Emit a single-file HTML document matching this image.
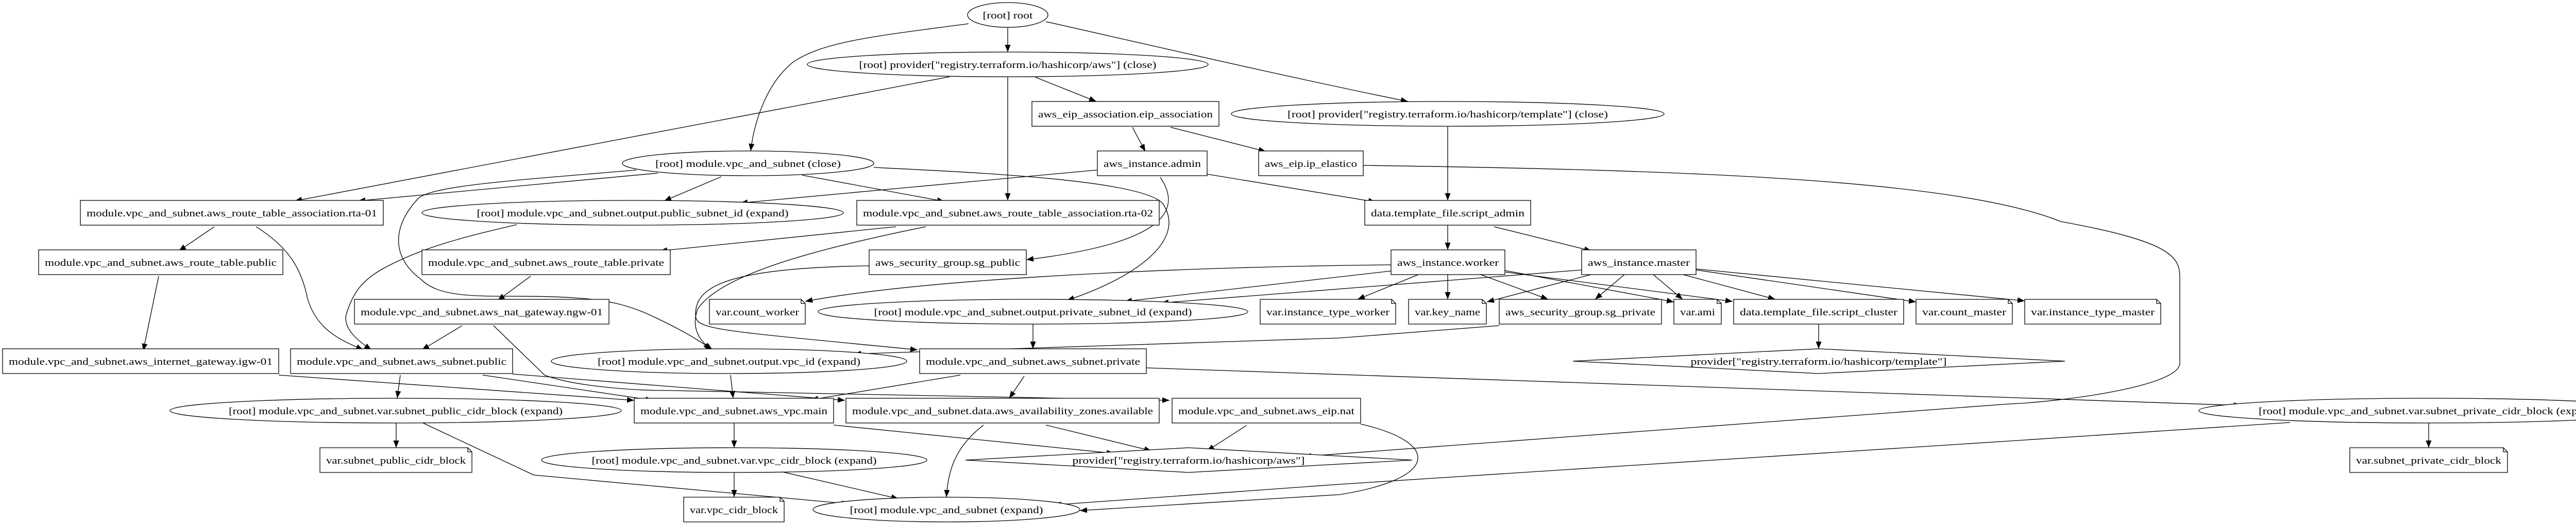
<!DOCTYPE html>
<html><head><meta charset="utf-8"><style>
html,body{margin:0;padding:0;background:#fff;}
svg{display:block;}
text{font-family:"Liberation Serif","DejaVu Serif",serif;font-size:19px;fill:#000;}
.e{fill:none;stroke:#000;stroke-width:1.3;}
.n{fill:#fff;stroke:#000;stroke-width:1.3;}
</style></head><body>
<svg width="5165" height="1019" viewBox="0 0 5165 1019" xmlns="http://www.w3.org/2000/svg">
<defs><marker id="a" markerUnits="userSpaceOnUse" markerWidth="16" markerHeight="12" refX="14" refY="5.5" orient="auto"><path d="M0,0 L14,5.5 L0,11 z" fill="#000"/></marker></defs>
<g class="e" marker-end="url(#a)">
<path d="M1956,53 L1956,101"/>
<path d="M1880,46 C1700,70 1600,80 1540,120 C1490,160 1465,230 1457,293"/>
<path d="M2030,42 C2200,80 2500,150 2733,197"/>
<path d="M1843,149 L572,390"/>
<path d="M1956,149 L1956,389"/>
<path d="M2010,150 L2128,197"/>
<path d="M2198,247 L2223,294"/>
<path d="M2272,247 L2457,294"/>
<path d="M2810,246 L2810,389"/>
<path d="M2343,338 L2670,392"/>
<path d="M2129,330 L1437,394"/>
<path d="M2252,344 C2290,400 2280,470 1992,504"/>
<path d="M1696,325 C1900,335 2240,350 2260,400 C2300,470 2200,540 2071,583"/>
<path d="M2646,321 C3300,330 3800,350 4000,430 C4220,470 4231,500 4231,540 L4231,705 C4231,750 4000,780 3900,784 L2531,886"/>
<path d="M4445,820 L3900,856 L2600,940 L2046,980"/>
<path d="M2641,823 C2800,860 2790,930 2600,960 L2096,991"/>
<path d="M1277,336 L695,390"/>
<path d="M1235,330 C1000,350 840,360 812,385 C760,440 760,500 817,542 C850,575 912,575 1000,575 C1186,575 1220,590 1300,630 C1340,650 1370,670 1383,679"/>
<path d="M1400,343 L1289,390"/>
<path d="M1557,340 L1833,391"/>
<path d="M416,440 L347,487"/>
<path d="M497,440 C560,480 585,520 597,580 C615,640 660,660 705,679"/>
<path d="M308,536 L278,681"/>
<path d="M1003,436 C900,460 820,480 746,520 C700,545 685,570 672,610 C665,640 700,665 721,679"/>
<path d="M1739,440 L1281,487"/>
<path d="M1797,440 C1600,480 1400,530 1354,600 C1340,640 1360,660 1379,679"/>
<path d="M1687,516 C1400,520 1350,560 1350,610 C1350,640 1380,640 1781,679"/>
<path d="M1030,536 L966,583"/>
<path d="M897,632 L819,679"/>
<path d="M958,632 L1057,728 C1100,745 1200,758 1300,758 L2270,777"/>
<path d="M541,728 L1231,777"/>
<path d="M937,728 L1267,777"/>
<path d="M995,726 L1640,777"/>
<path d="M777,728 L771,773"/>
<path d="M769,821 L769,869"/>
<path d="M821,821 L1036,922 L1648,978"/>
<path d="M1418,728 L1423,773"/>
<path d="M1864,728 L1574,776"/>
<path d="M1988,730 L1959,773"/>
<path d="M2225,714 L4350,787"/>
<path d="M2005,629 L2005,677"/>
<path d="M1425,821 L1425,869"/>
<path d="M1618,825 L2162,880"/>
<path d="M2030,825 L2235,875"/>
<path d="M1909,825 C1850,870 1840,920 1837,965"/>
<path d="M2419,826 L2343,875"/>
<path d="M1425,917 L1425,965"/>
<path d="M1519,916 L1744,968"/>
<path d="M2810,437 L2810,485"/>
<path d="M2900,440 L3089,487"/>
<path d="M2753,533 L2635,581"/>
<path d="M2810,533 L2810,581"/>
<path d="M2874,533 L3005,581"/>
<path d="M2921,525 L3249,586"/>
<path d="M2921,528 L3363,585"/>
<path d="M2700,514 C2300,518 1800,540 1563,585"/>
<path d="M2700,526 L2183,585"/>
<path d="M3070,524 L2254,588"/>
<path d="M3088,533 L2886,586"/>
<path d="M3153,533 L3096,581"/>
<path d="M3209,533 L3266,581"/>
<path d="M3267,533 L3446,581"/>
<path d="M3292,524 L3719,586"/>
<path d="M3292,522 L3930,584"/>
<path d="M2910,632 L2600,656 L1657,687"/>
<path d="M3530,629 L3530,677"/>
<path d="M4714,821 L4714,869"/>
</g>
<g>
<ellipse class="n" cx="1956" cy="29" rx="78" ry="24"/><text x="1956" y="36" text-anchor="middle" textLength="97" lengthAdjust="spacingAndGlyphs">[root] root</text>
<ellipse class="n" cx="1956" cy="125" rx="389" ry="24"/><text x="1956" y="132" text-anchor="middle" textLength="577" lengthAdjust="spacingAndGlyphs">[root] provider["registry.terraform.io/hashicorp/aws"] (close)</text>
<ellipse class="n" cx="2810" cy="221" rx="420" ry="24"/><text x="2810" y="228" text-anchor="middle" textLength="622" lengthAdjust="spacingAndGlyphs">[root] provider["registry.terraform.io/hashicorp/template"] (close)</text>
<ellipse class="n" cx="1452" cy="317" rx="244" ry="24"/><text x="1452" y="324" text-anchor="middle" textLength="360" lengthAdjust="spacingAndGlyphs">[root] module.vpc_and_subnet (close)</text>
<ellipse class="n" cx="1228" cy="413" rx="409" ry="24"/><text x="1228" y="420" text-anchor="middle" textLength="605" lengthAdjust="spacingAndGlyphs">[root] module.vpc_and_subnet.output.public_subnet_id (expand)</text>
<ellipse class="n" cx="2005" cy="605" rx="417" ry="24"/><text x="2005" y="612" text-anchor="middle" textLength="617" lengthAdjust="spacingAndGlyphs">[root] module.vpc_and_subnet.output.private_subnet_id (expand)</text>
<ellipse class="n" cx="1415" cy="701" rx="345" ry="24"/><text x="1415" y="708" text-anchor="middle" textLength="510" lengthAdjust="spacingAndGlyphs">[root] module.vpc_and_subnet.output.vpc_id (expand)</text>
<ellipse class="n" cx="768" cy="797" rx="438" ry="24"/><text x="768" y="804" text-anchor="middle" textLength="648" lengthAdjust="spacingAndGlyphs">[root] module.vpc_and_subnet.var.subnet_public_cidr_block (expand)</text>
<ellipse class="n" cx="4714" cy="797" rx="446" ry="24"/><text x="4714" y="804" text-anchor="middle" textLength="660" lengthAdjust="spacingAndGlyphs">[root] module.vpc_and_subnet.var.subnet_private_cidr_block (expand)</text>
<ellipse class="n" cx="1425" cy="893" rx="374" ry="24"/><text x="1425" y="900" text-anchor="middle" textLength="553" lengthAdjust="spacingAndGlyphs">[root] module.vpc_and_subnet.var.vpc_cidr_block (expand)</text>
<ellipse class="n" cx="1837" cy="989" rx="259" ry="24"/><text x="1837" y="996" text-anchor="middle" textLength="375" lengthAdjust="spacingAndGlyphs">[root] module.vpc_and_subnet (expand)</text>

<rect class="n" x="2003" y="197" width="363" height="48"/><text x="2184.5" y="228" text-anchor="middle" textLength="339" lengthAdjust="spacingAndGlyphs">aws_eip_association.eip_association</text>
<rect class="n" x="2130" y="293" width="213" height="48"/><text x="2236.5" y="324" text-anchor="middle" textLength="189" lengthAdjust="spacingAndGlyphs">aws_instance.admin</text>
<rect class="n" x="2443" y="293" width="203" height="48"/><text x="2544.5" y="324" text-anchor="middle" textLength="179" lengthAdjust="spacingAndGlyphs">aws_eip.ip_elastico</text>
<rect class="n" x="156" y="389" width="588" height="48"/><text x="450" y="420" text-anchor="middle" textLength="564" lengthAdjust="spacingAndGlyphs">module.vpc_and_subnet.aws_route_table_association.rta-01</text>
<rect class="n" x="1663" y="389" width="587" height="48"/><text x="1956.5" y="420" text-anchor="middle" textLength="563" lengthAdjust="spacingAndGlyphs">module.vpc_and_subnet.aws_route_table_association.rta-02</text>
<rect class="n" x="2649" y="389" width="322" height="48"/><text x="2810" y="420" text-anchor="middle" textLength="298" lengthAdjust="spacingAndGlyphs">data.template_file.script_admin</text>
<rect class="n" x="75" y="485" width="474" height="48"/><text x="312" y="516" text-anchor="middle" textLength="450" lengthAdjust="spacingAndGlyphs">module.vpc_and_subnet.aws_route_table.public</text>
<rect class="n" x="819" y="485" width="482" height="48"/><text x="1060" y="516" text-anchor="middle" textLength="458" lengthAdjust="spacingAndGlyphs">module.vpc_and_subnet.aws_route_table.private</text>
<rect class="n" x="1687" y="485" width="305" height="48"/><text x="1839.5" y="516" text-anchor="middle" textLength="281" lengthAdjust="spacingAndGlyphs">aws_security_group.sg_public</text>
<rect class="n" x="2700" y="485" width="221" height="48"/><text x="2810.5" y="516" text-anchor="middle" textLength="197" lengthAdjust="spacingAndGlyphs">aws_instance.worker</text>
<rect class="n" x="3070" y="485" width="222" height="48"/><text x="3181" y="516" text-anchor="middle" textLength="198" lengthAdjust="spacingAndGlyphs">aws_instance.master</text>
<rect class="n" x="688" y="581" width="494" height="48"/><text x="935" y="612" text-anchor="middle" textLength="470" lengthAdjust="spacingAndGlyphs">module.vpc_and_subnet.aws_nat_gateway.ngw-01</text>
<rect class="n" x="2910" y="581" width="315" height="48"/><text x="3067.5" y="612" text-anchor="middle" textLength="291" lengthAdjust="spacingAndGlyphs">aws_security_group.sg_private</text>
<rect class="n" x="3365" y="581" width="330" height="48"/><text x="3530" y="612" text-anchor="middle" textLength="306" lengthAdjust="spacingAndGlyphs">data.template_file.script_cluster</text>
<rect class="n" x="5" y="677" width="536" height="48"/><text x="273" y="708" text-anchor="middle" textLength="512" lengthAdjust="spacingAndGlyphs">module.vpc_and_subnet.aws_internet_gateway.igw-01</text>
<rect class="n" x="564" y="677" width="431" height="48"/><text x="779.5" y="708" text-anchor="middle" textLength="407" lengthAdjust="spacingAndGlyphs">module.vpc_and_subnet.aws_subnet.public</text>
<rect class="n" x="1785" y="677" width="440" height="48"/><text x="2005" y="708" text-anchor="middle" textLength="416" lengthAdjust="spacingAndGlyphs">module.vpc_and_subnet.aws_subnet.private</text>
<rect class="n" x="1231" y="773" width="387" height="48"/><text x="1424.5" y="804" text-anchor="middle" textLength="363" lengthAdjust="spacingAndGlyphs">module.vpc_and_subnet.aws_vpc.main</text>
<rect class="n" x="1642" y="773" width="608" height="48"/><text x="1946" y="804" text-anchor="middle" textLength="584" lengthAdjust="spacingAndGlyphs">module.vpc_and_subnet.data.aws_availability_zones.available</text>
<rect class="n" x="2275" y="773" width="366" height="48"/><text x="2458" y="804" text-anchor="middle" textLength="342" lengthAdjust="spacingAndGlyphs">module.vpc_and_subnet.aws_eip.nat</text>

<path class="n" d="M1377,581 H1555 L1563,589 V629 H1377 Z M1555,581 V589 H1563"/><text x="1470" y="612" text-anchor="middle" textLength="162" lengthAdjust="spacingAndGlyphs">var.count_worker</text>
<path class="n" d="M2446,581 H2701 L2709,589 V629 H2446 Z M2701,581 V589 H2709"/><text x="2577.5" y="612" text-anchor="middle" textLength="239" lengthAdjust="spacingAndGlyphs">var.instance_type_worker</text>
<path class="n" d="M2734,581 H2877 L2885,589 V629 H2734 Z M2877,581 V589 H2885"/><text x="2809.5" y="612" text-anchor="middle" textLength="127" lengthAdjust="spacingAndGlyphs">var.key_name</text>
<path class="n" d="M3249,581 H3333 L3341,589 V629 H3249 Z M3333,581 V589 H3341"/><text x="3295" y="612" text-anchor="middle" textLength="68" lengthAdjust="spacingAndGlyphs">var.ami</text>
<path class="n" d="M3719,581 H3898 L3906,589 V629 H3719 Z M3898,581 V589 H3906"/><text x="3812.5" y="612" text-anchor="middle" textLength="163" lengthAdjust="spacingAndGlyphs">var.count_master</text>
<path class="n" d="M3930,581 H4186 L4194,589 V629 H3930 Z M4186,581 V589 H4194"/><text x="4062" y="612" text-anchor="middle" textLength="240" lengthAdjust="spacingAndGlyphs">var.instance_type_master</text>
<path class="n" d="M621,869 H908 L916,877 V917 H621 Z M908,869 V877 H916"/><text x="768.5" y="900" text-anchor="middle" textLength="271" lengthAdjust="spacingAndGlyphs">var.subnet_public_cidr_block</text>
<path class="n" d="M1327,965 H1514 L1522,973 V1013 H1327 Z M1514,965 V973 H1522"/><text x="1424.5" y="996" text-anchor="middle" textLength="171" lengthAdjust="spacingAndGlyphs">var.vpc_cidr_block</text>
<path class="n" d="M4561,869 H4859 L4867,877 V917 H4561 Z M4859,869 V877 H4867"/><text x="4714" y="900" text-anchor="middle" textLength="282" lengthAdjust="spacingAndGlyphs">var.subnet_private_cidr_block</text>

<polygon class="n" points="2307,869 2741,893 2307,917 1874,893"/><text x="2307" y="900" text-anchor="middle" textLength="451" lengthAdjust="spacingAndGlyphs">provider["registry.terraform.io/hashicorp/aws"]</text>
<polygon class="n" points="3530,677 4008,701 3530,725 3053,701"/><text x="3530" y="708" text-anchor="middle" textLength="497" lengthAdjust="spacingAndGlyphs">provider["registry.terraform.io/hashicorp/template"]</text>
</g>
</svg>
</body></html>
